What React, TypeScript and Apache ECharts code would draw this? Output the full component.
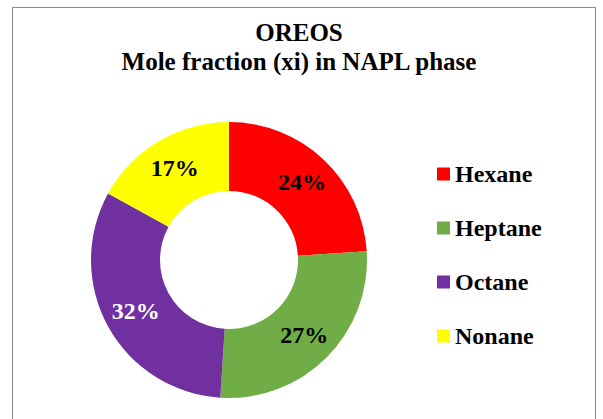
import React, { useEffect, useRef } from "react";
import * as echarts from "echarts";

const categories = ["Hexane", "Heptane", "Octane", "Nonane"];
const values = [24, 27, 32, 17];
const colors = ["#FF0000", "#70AD47", "#7030A0", "#FFFF00"];
const labelColors = ["#000000", "#000000", "#FFFFFF", "#000000"];

const FONT = "'Liberation Serif', 'Times New Roman', serif";

export default function App() {
  const ref = useRef<HTMLDivElement>(null);
  useEffect(() => {
    if (!ref.current) return;
    const chart = echarts.init(ref.current, null, { renderer: "svg" });
    chart.setOption({
      animation: false,
      backgroundColor: "#FFFFFF",
      title: {
        text: "OREOS\nMole fraction (xi) in NAPL phase",
        left: 294,
        top: 13,
        textAlign: "center",
        textStyle: {
          fontFamily: FONT,
          fontSize: 25,
          fontWeight: "bold",
          color: "#000000",
          lineHeight: 29,
        },
      },
      legend: {
        orient: "vertical",
        left: 432,
        top: 157,
        itemWidth: 13,
        itemHeight: 13,
        itemGap: 30,
        icon: "rect",
        data: categories,
        textStyle: {
          fontFamily: FONT,
          fontSize: 24,
          fontWeight: "bold",
          color: "#000000",
          lineHeight: 24,
        },
      },
      graphic: [
        {
          type: "rect",
          shape: { x: 12.5, y: 7.5, width: 583, height: 440 },
          style: { fill: "none", stroke: "#8C8C8C", lineWidth: 1 },
          silent: true,
        },
      ],
      series: [
        {
          type: "pie",
          center: [229, 260],
          radius: [69, 138],
          startAngle: 90,
          clockwise: true,
          avoidLabelOverlap: false,
          label: {
            show: true,
            position: "inside",
            formatter: "{c}%",
            fontFamily: FONT,
            fontSize: 24,
            fontWeight: "bold",
          },
          labelLine: { show: false },
          itemStyle: { borderWidth: 0 },
          emphasis: { disabled: true },
          data: categories.map((name, i) => ({
            name,
            value: values[i],
            itemStyle: { color: colors[i] },
            label: { color: labelColors[i] },
          })),
        },
      ],
    });
    return () => chart.dispose();
  }, []);
  return (
    <div
      ref={ref}
      style={{ position: "fixed", left: 0, top: 0, width: 603, height: 419 }}
    />
  );
}
